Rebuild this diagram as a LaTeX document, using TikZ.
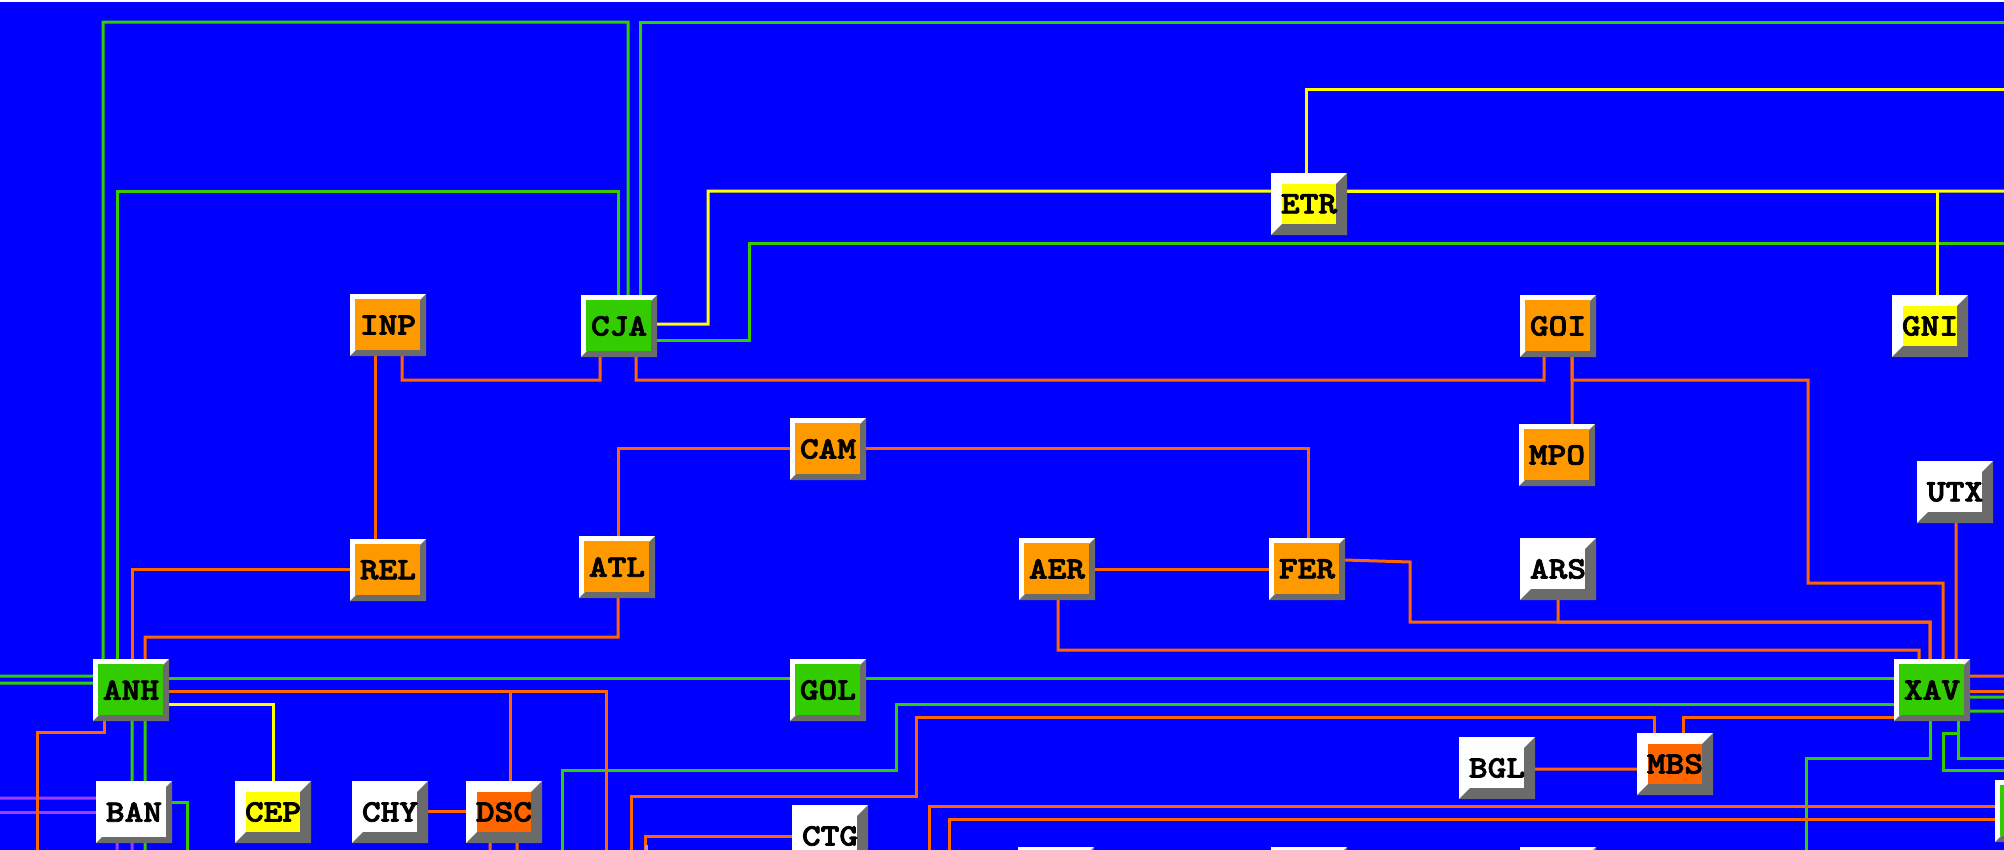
\documentclass[tikz,border=0pt]{standalone}
\usepackage{fontspec}
\newfontfamily\monofam{lmmonolt10-bold.otf}[FakeStretch=1.15, FakeBold=2.5]
\usetikzlibrary{calc}
\definecolor{bgblue}{RGB}{0,0,255}
\definecolor{gline}{RGB}{51,204,0}
\definecolor{oline}{RGB}{255,102,0}
\definecolor{yline}{RGB}{255,255,0}
\definecolor{pline}{RGB}{160,60,255}
\definecolor{lavline}{RGB}{150,150,255}
\definecolor{facO}{RGB}{255,153,0}
\definecolor{facG}{RGB}{51,204,0}
\definecolor{facY}{RGB}{255,255,0}
\definecolor{facR}{RGB}{255,102,0}
\definecolor{bevgray}{RGB}{107,107,107}
\pgfdeclarelayer{bglayer}
\pgfdeclarelayer{wires}
\pgfsetlayers{bglayer,wires,main}
\newcommand\btnlabelfont{\monofam\fontsize{31bp}{31bp}\selectfont}
\tikzset{
  btn/.style n args={3}{rectangle, minimum width=76bp, minimum height=62bp,
    inner sep=0pt, outer sep=0pt, fill=white, font=\btnlabelfont, text=black,
    path picture={
      \fill[#1] ([xshift=#3bp, yshift=-#3bp]path picture bounding box.north west)
        rectangle ([xshift=-#2bp, yshift=#2bp]path picture bounding box.south east);
      \fill[bevgray] (path picture bounding box.north east)
        -- (path picture bounding box.south east)
        -- (path picture bounding box.south west)
        -- ([xshift=#2bp, yshift=#2bp]path picture bounding box.south west)
        -- ([xshift=-#2bp, yshift=#2bp]path picture bounding box.south east)
        -- ([xshift=-#2bp, yshift=-#2bp]path picture bounding box.north east)
        -- cycle;
    }},
  nbthin/.style={btn={#1}{6}{5}},
  nbthick/.style={btn={#1}{11}{11}},
  wire/.style={line width=3bp},
  gw/.style={wire, draw=gline},
  ow/.style={wire, draw=oline},
  yw/.style={wire, draw=yline},
  pw/.style={wire, draw=pline},
}
\begin{document}
\begin{tikzpicture}[x=1bp, y=-1bp]
\useasboundingbox (0,0) rectangle (2004,850);
\begin{pgfonlayer}{bglayer}
  \fill[white] (0,0) rectangle (2004,850);
  \fill[bgblue] (0,2) rectangle (2004,850);
\end{pgfonlayer}

% nodes
\node[nbthin=facO] (INP) at (388,325) {INP};
\node[nbthin=facG] (CJA) at (619,326) {CJA};
\node[nbthick=facY] (ETR) at (1309,204) {ETR};
\node[nbthin=facO] (GOI) at (1558,326) {GOI};
\node[nbthick=facY] (GNI) at (1930,326) {GNI};
\node[nbthin=facO] (CAM) at (828,449) {CAM};
\node[nbthin=facO] (MPO) at (1557,455) {MPO};
\node[nbthick=white] (UTX) at (1955,492) {UTX};
\node[nbthin=facO] (ATL) at (617,567) {ATL};
\node[nbthin=facO] (REL) at (388,570) {REL};
\node[nbthin=facO] (AER) at (1057,569) {AER};
\node[nbthin=facO] (FER) at (1307,569) {FER};
\node[nbthick=white] (ARS) at (1558,569) {ARS};
\node[nbthin=facG] (ANH) at (131,690) {ANH};
\node[nbthin=facG] (GOL) at (828,690) {GOL};
\node[nbthin=facG] (XAV) at (1932,690) {XAV};
\node[nbthick=white] (BGL) at (1497,768) {BGL};
\node[nbthick=facR] (MBS) at (1675,764) {MBS};
\node[nbthin=white] (BAN) at (134,812) {BAN};
\node[nbthick=facY] (CEP) at (273,812) {CEP};
\node[nbthick=white] (CHY) at (390,812) {CHY};
\node[nbthick=facR] (DSC) at (504,812) {DSC};
\node[nbthick=white] (CTG) at (830,836) {CTG};
\node[nbthin=facG] (RGT) at (2033,811) {};
\node[nbthick=white] (BT1) at (1056,878) {};
\node[nbthick=white] (BT2) at (1309,878) {};
\node[nbthick=white] (BT3) at (1558,878) {};

\begin{pgfonlayer}{wires}
% green
\draw[gw] ([xshift=-28bp]ANH.north) |- (628,22) -- ([xshift=9bp]CJA.north);
\draw[gw] ([xshift=-14bp]ANH.north) |- (618,191) -- ([xshift=-1bp]CJA.north);
\draw[gw] ([xshift=21bp]CJA.north) |- (2012,22);
\draw[gw] ([yshift=-14bp]CJA.east) -| (749,243) -- (2012,243);
\draw[gw] ([yshift=14bp]ANH.west) -- (-8,676);
\draw[gw] ([yshift=7bp]ANH.west) -- (-8,683);
\draw[gw] ([yshift=12bp]ANH.east) -- ([yshift=12bp]GOL.west);
\draw[gw] ([yshift=12bp]GOL.east) -- ([yshift=12bp]XAV.west);
\draw[gw] ([xshift=1bp]ANH.south) -- ([xshift=-2bp]BAN.north);
\draw[gw] ([xshift=14bp]ANH.south) -- ([xshift=11bp]BAN.north);
\draw[gw] ([xshift=11bp]BAN.south) -- (145,860);
\draw[gw] ([yshift=10bp]BAN.east) -| (187,860);
\draw[gw] ([yshift=-14bp]XAV.west) -| (896,770) -| (562,860);
\draw[gw] ([xshift=-2bp]XAV.south) |- (1806,758) -- (1806,860);
\draw[gw] ([xshift=26bp]XAV.south) |- (2012,758);
\draw[gw] ([xshift=26bp]XAV.south) |- (1943,733) |- (2012,770);
\draw[gw] ([yshift=-7bp]XAV.east) -- (2012,697);
\draw[gw] ([yshift=-21bp]XAV.east) -- (2012,711);
% purple
\draw[pw] ([yshift=14bp]BAN.west) -- (-8,798);
\draw[pw] (BAN.west) -- (-8,812);
\draw[pw] ([xshift=-17bp]BAN.south) -- (117,860);
\draw[pw] ([xshift=-2bp]BAN.south) -- (132,860);
% orange
\draw[ow] ([xshift=14bp]INP.south) |- (600,380) -- ([xshift=-19bp]CJA.south);
\draw[ow] ([xshift=-13bp]INP.south) -- ([xshift=-13bp]REL.north);
\draw[ow] ([xshift=17bp]CJA.south) |- (1544,380) -- ([xshift=-14bp]GOI.south);
\draw[ow] ([xshift=14bp]GOI.south) -- ([xshift=15bp]MPO.north);
\draw[ow] ([xshift=14bp]GOI.south) |- (1808,380) |- (1943,583) -- ([xshift=11bp]XAV.north);
\draw[ow] ([yshift=1bp]REL.west) -| ([xshift=1bp]ANH.north);
\draw[ow] ([xshift=1bp]ATL.south) |- (145,637) -- ([xshift=14bp]ANH.north);
\draw[ow] ([xshift=1bp]ATL.north) |- ([yshift=1bp]CAM.west);
\draw[ow] ([yshift=1bp]CAM.east) -| ([xshift=1bp]FER.north);
\draw[ow] (AER.east) -- (FER.west);
\draw[ow] ([xshift=1bp]AER.south) |- (1919,650) -- ([xshift=-13bp]XAV.north);
\draw[ow] ([yshift=9bp]FER.east) -- (1410,562) |- (1930,622) -- ([xshift=-2bp]XAV.north);
\draw[ow] (ARS.south) |- (1930,622) -- ([xshift=-2bp]XAV.north);
\draw[ow] ([xshift=1bp]UTX.south) -- ([xshift=24bp]XAV.north);
\draw[ow] ([yshift=-1bp]ANH.east) -| (606,860);
\draw[ow] ([yshift=-1bp]ANH.east) -| ([xshift=6bp]DSC.north);
\draw[ow] ([xshift=-27bp]ANH.south) |- (37,732) -- (37,860);
\draw[ow] ([yshift=1bp]CHY.east) -- ([yshift=1bp]DSC.west);
\draw[ow] ([xshift=-14bp]DSC.south) -- (490,860);
\draw[ow] ([xshift=13bp]DSC.south) -- (517,860);
\draw[ow] ([xshift=-21bp]MBS.north) |- (916,717) |- (631,796) -- (631,860);
\draw[ow] ([yshift=-27bp]XAV.west) -| ([xshift=8bp]MBS.north);
\draw[ow] ([yshift=-1bp]BGL.east) -- ([yshift=-5bp]MBS.west);
\draw[ow] ([yshift=5bp]RGT.west) -| (929,860);
\draw[ow] ([yshift=-8bp]RGT.west) -| (949,860);
\draw[ow] (CTG.west) -| (645,860);
\draw[ow] ([yshift=14bp]XAV.east) -- (2012,676);
\draw[ow] ([yshift=-1bp]XAV.east) -- (2012,691);
\draw[wire, draw=lavline] (646,845) -- (646,860);
% yellow
\draw[yw] ([yshift=2bp]CJA.east) -| (708,191) -- ([yshift=13bp]ETR.west);
\draw[yw] ([yshift=13bp]ETR.east) -| ([xshift=7bp]GNI.north);
\draw[yw] ([yshift=13bp]ETR.east) -- (2012,191);
\draw[yw] ([xshift=-3bp]ETR.north) |- (2012,89);
\draw[yw] ([yshift=-14bp]ANH.east) -| (CEP.north);
\end{pgfonlayer}
\end{tikzpicture}
\end{document}
